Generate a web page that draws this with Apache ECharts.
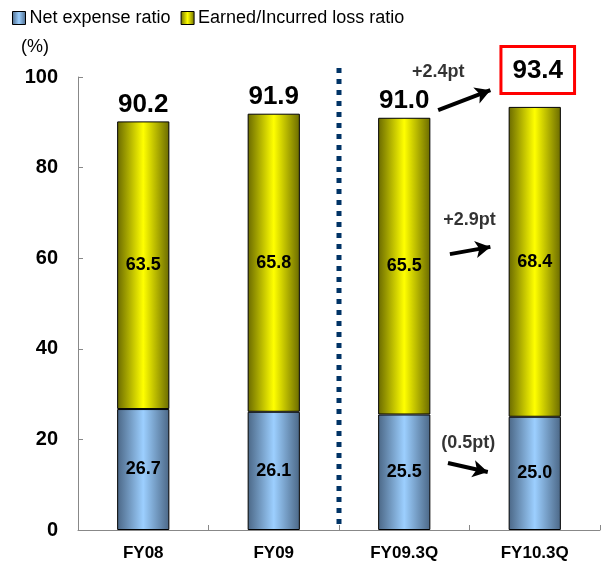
<!DOCTYPE html>
<html>
<head>
<meta charset="utf-8">
<script src="https://cdn.jsdelivr.net/npm/echarts@6/dist/echarts.min.js"></script>
<style>
  html, body { margin: 0; padding: 0; background: #fff; }
  #chart { width: 605px; height: 566px; }
</style>
</head>
<body>
<div id="chart"></div>
<script>
// Combined ratio breakdown by period
const categories = ['FY08', 'FY09', 'FY09.3Q', 'FY10.3Q'];
const netExpenseRatio = [26.7, 26.1, 25.5, 25.0];
const lossRatio = [63.5, 65.8, 65.5, 68.4];
const combinedRatio = [90.2, 91.9, 91.0, 93.4];
const yTicks = { min: 0, max: 100, interval: 20 };

// Change annotations (position in [category-slot, value] units) with arrow segments
const changeTexts = ['+2.4pt', '+2.9pt', '(0.5pt)'];
const changeTextPos = [[2.76, 101.1], [3.0, 68.4], [2.99, 19.3]];
const changeArrows = [
  [[2.76, 92.7], [3.16, 97.1]],
  [[2.85, 60.9], [3.16, 62.5]],
  [[2.835, 14.8], [3.14, 12.8]]
];
// Divider between full-year and quarter periods (slot boundary, value span)
const dividerSlot = 2;
const dividerSpan = [0, 102];

const FONT = '"Liberation Sans", Arial, sans-serif';

function hGrad(edge, mid) {
  return new echarts.graphic.LinearGradient(0, 0, 1, 0, [
    { offset: 0, color: edge },
    { offset: 0.5, color: mid },
    { offset: 1, color: edge }
  ]);
}
const blueFill = hGrad('#4b6786', '#9ccfff');
const yellowFill = hGrad('#6a6a00', '#ffff00');

const chart = echarts.init(document.getElementById('chart'), null, { renderer: 'canvas' });

const option = {
  animation: false,
  backgroundColor: '#ffffff',
  textStyle: { fontFamily: FONT },
  legend: {
    left: 12,
    top: 9,
    padding: 0,
    itemWidth: 13,
    itemHeight: 13,
    itemGap: 10,
    textStyle: { fontFamily: FONT, fontSize: 18, color: '#000', padding: [0, 0, 0, -1] },
    data: [
      { name: 'Net expense ratio', icon: 'rect', itemStyle: { color: blueFill, borderColor: '#000', borderWidth: 1 } },
      { name: 'Earned/Incurred loss ratio', icon: 'rect', itemStyle: { color: yellowFill, borderColor: '#000', borderWidth: 1 } }
    ]
  },
  grid: { left: 78, right: 5, top: 77, bottom: 36 },
  xAxis: [
    {
      type: 'category',
      data: categories,
      axisLine: { lineStyle: { color: '#888', width: 1 } },
      axisTick: { show: true, inside: true, length: 5, alignWithLabel: false, lineStyle: { color: '#888' } },
      axisLabel: { color: '#000', fontFamily: FONT, fontWeight: 'bold', fontSize: 17, margin: 15 }
    },
    { type: 'value', min: 0, max: 4, show: false }
  ],
  yAxis: {
    type: 'value',
    min: yTicks.min,
    max: yTicks.max,
    interval: yTicks.interval,
    splitLine: { show: false },
    axisLine: { show: true, lineStyle: { color: '#888', width: 1 } },
    axisTick: { show: true, inside: true, length: 5, lineStyle: { color: '#888' } },
    axisLabel: { color: '#000', fontFamily: FONT, fontWeight: 'bold', fontSize: 20, margin: 20 }
  },
  graphic: [
    {
      id: 'unit', type: 'text', left: 21, top: 38,
      style: { text: '(%)', font: '18px ' + FONT, fill: '#000' }
    }
  ],
  series: [
    {
      name: 'Net expense ratio',
      type: 'bar',
      stack: 'total',
      barWidth: '40%',
      data: netExpenseRatio,
      itemStyle: { color: blueFill, borderColor: '#000', borderWidth: 1 },
      label: {
        show: true, position: 'inside', color: '#000',
        fontFamily: FONT, fontWeight: 'bold', fontSize: 18,
        formatter: p => p.value.toFixed(1)
      }
    },
    {
      name: 'Earned/Incurred loss ratio',
      type: 'bar',
      stack: 'total',
      barWidth: '40%',
      data: lossRatio.map((v, i) => {
        const item = { value: v };
        if (i === categories.length - 1) {
          item.label = {
            backgroundColor: '#fff',
            borderColor: '#ff0000',
            borderWidth: 3,
            padding: [10, 10, 8, 10],
            distance: 15,
            offset: [3, 0]
          };
        }
        return item;
      }),
      itemStyle: { color: yellowFill, borderColor: '#000', borderWidth: 1 },
      label: {
        show: true, position: 'top', distance: 4, color: '#000',
        fontFamily: FONT, fontWeight: 'bold', fontSize: 26,
        formatter: p => combinedRatio[p.dataIndex].toFixed(1)
      }
    },
    {
      // transparent twin stack that carries the loss-ratio value labels
      name: 'lossBase',
      type: 'bar',
      stack: 'inner',
      barWidth: '40%',
      barGap: '-100%',
      data: netExpenseRatio,
      itemStyle: { color: 'transparent' },
      silent: true,
      z: 0
    },
    {
      name: 'lossValue',
      type: 'bar',
      stack: 'inner',
      barWidth: '40%',
      data: lossRatio,
      itemStyle: { color: 'transparent' },
      silent: true,
      z: 5,
      label: {
        show: true, position: 'inside', color: '#000',
        fontFamily: FONT, fontWeight: 'bold', fontSize: 18,
        formatter: p => p.value.toFixed(1)
      }
    },
    {
      name: 'annotations',
      type: 'scatter',
      xAxisIndex: 1,
      yAxisIndex: 0,
      clip: false,
      symbolSize: 0,
      silent: true,
      data: changeTexts.map((t, i) => ({ value: changeTextPos[i], name: t })),
      label: {
        show: true, position: 'inside', color: '#000',
        fontFamily: FONT, fontWeight: 'bold', fontSize: 18,
        formatter: p => p.name
      },
      markLine: {
        silent: true,
        animation: false,
        symbol: ['none', 'arrow'],
        symbolSize: [13, 15],
        label: { show: false },
        lineStyle: { color: '#000', width: 4, type: 'solid' },
        data: changeArrows.map(seg => [{ coord: seg[0] }, { coord: seg[1] }])
      }
    }
  ]
};

chart.setOption(option);

// Dotted divider drawn through the axis scales
const dTop = chart.convertToPixel({ xAxisIndex: 1, yAxisIndex: 0 }, [dividerSlot, dividerSpan[1]]);
const dBot = chart.convertToPixel({ xAxisIndex: 1, yAxisIndex: 0 }, [dividerSlot, dividerSpan[0]]);
chart.setOption({
  graphic: [
    {
      id: 'divider', type: 'line', silent: true, z: 10,
      shape: { x1: dTop[0], y1: dTop[1], x2: dBot[0], y2: dBot[1] },
      style: { stroke: '#003366', lineWidth: 5, lineDash: [5, 6] }
    }
  ]
});
</script>
</body>
</html>
